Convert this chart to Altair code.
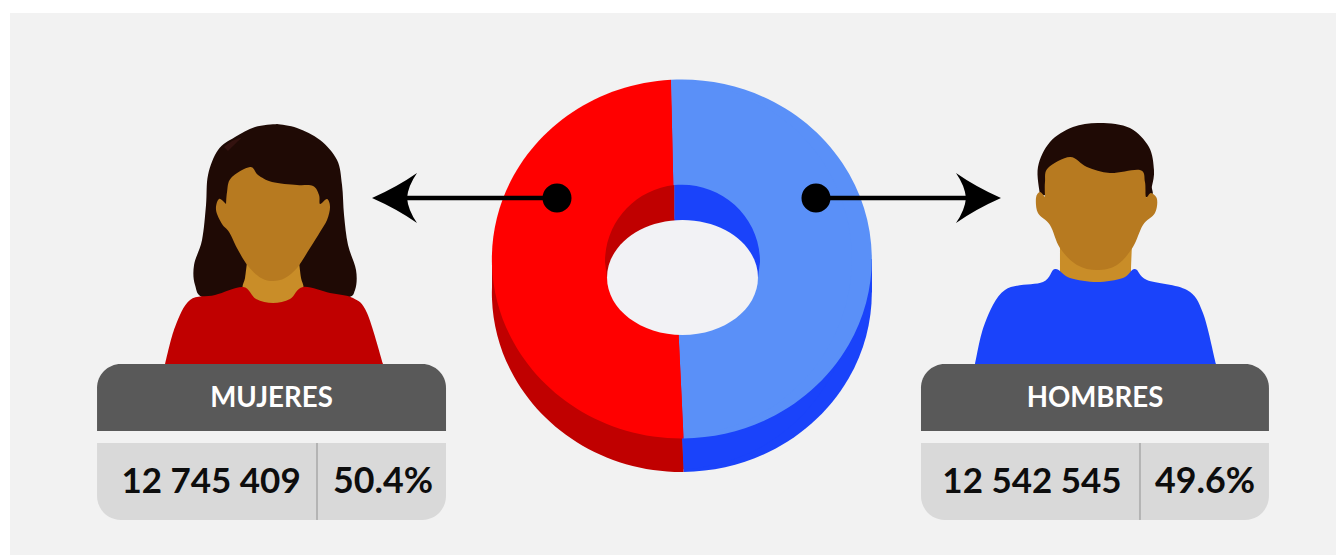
import math
import altair as alt
import pandas as pd

# ---- values
sexos = ["HOMBRES", "MUJERES"]
shares = [49.6, 50.4]
poblacion = ["12 542 545", "12 745 409"]
porcentajes = ["49.6%", "50.4%"]

top_colors = ["#5a90f8", "#ff0000"]
side_colors = ["#1a43fa", "#c00000"]

# The page is 16px wider than the window once the panel runs to its right edge,
# and the photograph shrinks it by this factor; page coordinates below allow for it.
K = 1344 / 1352
W, H = 1336, 552
DY = 1.7
SX = alt.Scale(domain=[8 * K, 8 * K + W * K], range=[0, W], nice=False, zero=False)
SY = alt.Scale(domain=[8 * K + DY, 8 * K + DY + H * K], range=[0, H], nice=False, zero=False)
X = lambda f="x": alt.X(f"{f}:Q", scale=SX, axis=None)
Y = lambda f="y": alt.Y(f"{f}:Q", scale=SY, axis=None)


def curve(pts, close=True):
    """Smooth outline through hand-read points (Catmull-Rom to Bezier)."""
    d = f"M{pts[0][0]},{pts[0][1]}"
    n = len(pts)
    for i in range(n - 1):
        p0 = pts[max(i - 1, 0)]
        p1 = pts[i]
        p2 = pts[i + 1]
        p3 = pts[min(i + 2, n - 1)]
        c1 = (p1[0] + (p2[0] - p0[0]) / 6, p1[1] + (p2[1] - p0[1]) / 6)
        c2 = (p2[0] - (p3[0] - p1[0]) / 6, p2[1] - (p3[1] - p1[1]) / 6)
        d += f"C{c1[0]:.1f},{c1[1]:.1f} {c2[0]:.1f},{c2[1]:.1f} {p2[0]},{p2[1]}"
    return d + ("Z" if close else "")


def shape(path, color):
    # this size makes one path unit one final pixel; the anchor sits on the page origin
    return (
        alt.Chart(pd.DataFrame({"x": [0], "y": [0]}))
        .mark_point(shape=path, size=4 / K ** 2, filled=True, fill=color, stroke=None, opacity=1, clip=False)
        .encode(x=X(), y=Y())
    )


def box(x0, x1, y0, y1, color, **kw):
    return (
        alt.Chart(pd.DataFrame({"x": [x0], "x2": [x1], "y": [y0], "y2": [y1]}))
        .mark_rect(color=color, **kw)
        .encode(x=X(), x2="x2:Q", y=Y(), y2="y2:Q")
    )


def label(x, y, text, size, color):
    return (
        alt.Chart(pd.DataFrame({"x": [x], "y": [y], "t": [text]}))
        .mark_text(font="Lato", fontWeight="bold", fontSize=size, color=color, align="center", baseline="middle")
        .encode(x=X(), y=Y(), text="t:N")
    )


layers = [box(10, 1344, 13, 555, "#f2f2f2")]

# ---- donut
df = pd.DataFrame({"sexo": sexos, "share": shares})
df["a"] = df["share"].cumsum().shift(fill_value=0)
df["b"] = df["share"].cumsum()
start = math.radians(-1.3)
THETA = alt.Scale(domain=[0, 100], range=[start, start + 2 * math.pi])
COLOR = alt.Scale(
    domain=[s + "_top" for s in sexos] + [s + "_side" for s in sexos],
    range=top_colors + side_colors,
)


def ring(cy, tone):
    d = df.assign(x=675, y=cy, key=df["sexo"] + tone)
    return (
        alt.Chart(d)
        .mark_arc(radius=177 / K, innerRadius=40)
        .encode(
            x=X(),
            y=Y(),
            theta=alt.Theta("a:Q", scale=THETA),
            theta2="b:Q",
            color=alt.Color("key:N", scale=COLOR, legend=None),
        )
    )


def rims(cy, c_right, c_left):
    t, b = cy - 179.2, cy + 179.5
    return [
        shape(f"M671,{t}A190,179.5 0 1 1 683.5,{b}Z", c_right),
        shape(f"M683.5,{b}A190,179.5 0 0 1 671,{t}Z", c_left),
    ]


layers += rims(292.5, side_colors[0], side_colors[1])
layers += [box(492, 680, 259, 292.5, side_colors[1]), box(680, 872, 259, 292.5, side_colors[0])]
layers += [ring(292.5, "_side")]
layers += rims(259, top_colors[0], top_colors[1])
layers += [ring(259, "_top")]

# inner wall and hole
layers += [
    shape("M674.5,185A78,77 0 0 0 605,262L607,278L674.5,278Z", side_colors[1]),
    shape("M674.5,185A78,77 0 0 1 760,262L758,278L674.5,278Z", side_colors[0]),
    shape("M607,277.5A75.5,57.5 0 1 1 758,277.5A75.5,57.5 0 1 1 607,277.5Z", "#f2f2f5"),
]

# ---- arrows
layers += [
    alt.Chart(pd.DataFrame({"x": [404, 816], "x2": [557, 968], "y": [198, 198]}))
    .mark_rule(color="#000000", strokeWidth=4.4)
    .encode(x=X(), x2="x2:Q", y=Y()),
    shape("M372,198Q397,187 417,173Q408,186 407,198Q408,210 417,223Q397,209 372,198Z", "#000000"),
    shape("M1001,198Q976,187 956,173Q965,186 966,198Q965,210 956,223Q976,209 1001,198Z", "#000000"),
    alt.Chart(pd.DataFrame({"x": [557, 816], "y": [198, 198]}))
    .mark_point(shape="circle", size=841 / K ** 2, filled=True, color="#000000", opacity=1)
    .encode(x=X(), y=Y()),
]

# ---- woman
HAIR = "#1f0a05"
FACE = "#b77a20"
NECK = "#c98d28"
layers += [
    shape(curve([(277, 124), (297, 128), (320, 140), (337, 160), (342, 185), (344, 215), (348, 245), (356, 270),
                 (355, 290), (345, 298), (300, 300), (250, 300), (205, 298), (195, 285), (194, 265), (202, 240),
                 (206, 205), (208, 175), (218, 150), (235, 137), (255, 127), (277, 124)]), HAIR),
    shape(curve([(224, 147), (232, 141), (241, 138), (236, 143), (228, 151)]), "#33120f"),
    shape(curve([(247, 262), (245, 278), (243, 290), (256, 306), (273, 310), (290, 306), (303, 290), (301, 278),
                 (299, 262)]), NECK),
    shape(curve([(165, 364), (175, 327), (190, 300), (215, 295), (243, 287), (256, 299), (273, 303), (290, 299),
                 (303, 287), (330, 293), (353, 298), (367, 313), (383, 364)]), "#c00000"),
    shape(curve([(226, 204), (227, 192), (231, 178), (250, 167), (258, 175), (272, 182), (297, 185), (313, 186),
                 (319, 195), (320, 204), (327, 199), (330, 207), (327, 220), (320, 232), (310, 248), (297, 268),
                 (285, 278), (273, 281), (261, 278), (248, 266), (238, 250), (229, 232), (222, 224), (216, 210),
                 (219, 199), (226, 204)]), FACE),
]

# ---- man
layers += [
    shape(curve([(1040, 195), (1038, 167), (1050, 142), (1073, 127), (1100, 123), (1130, 128), (1149, 147),
                 (1154, 170), (1152, 186), (1148, 197), (1100, 199), (1040, 195)]), HAIR),
    shape(curve([(1060, 245), (1060, 270), (1060, 292), (1095, 296), (1131, 292), (1131, 270), (1132, 245)]), NECK),
    shape(curve([(975, 364), (985, 323), (1005, 290), (1043, 282), (1055, 269), (1070, 278), (1097, 282),
                 (1123, 278), (1135, 269), (1147, 280), (1187, 290), (1203, 313), (1216, 364)]), "#1a43fa"),
    shape(curve([(1045, 197), (1045, 182), (1048, 168), (1070, 157), (1087, 167), (1110, 173), (1140, 170),
                 (1145, 182), (1146, 197), (1151, 193), (1157, 199), (1155, 213), (1143, 225), (1133, 247),
                 (1117, 265), (1097, 270), (1077, 265), (1060, 248), (1050, 225), (1038, 213), (1036, 198),
                 (1040, 192), (1045, 197)]), FACE),
]

# ---- cards
R = 24
for x0, x1, divider, name, num, pct, cnum, cpct in [
    (97, 446, 317, sexos[1], poblacion[1], porcentajes[1], 211, 383),
    (921, 1269, 1140, sexos[0], poblacion[0], porcentajes[0], 1032, 1205),
]:
    layers += [
        box(x0, x1, 364, 431, "#595959", cornerRadiusTopLeft=R, cornerRadiusTopRight=R),
        box(x0, x1, 443, 520, "#d9d9d9", cornerRadiusBottomLeft=R, cornerRadiusBottomRight=R),
        box(divider - 1, divider + 1, 443, 520, "#b4b4b4"),
        label((x0 + x1) / 2, 399.5, name, 27.8, "#ffffff"),
        label(cnum, 482, num, 35.2, "#0d0d0d"),
        label(cpct, 482, pct, 36, "#0d0d0d"),
    ]

chart = (
    alt.layer(*layers)
    .properties(width=W, height=H, padding=0, background="#ffffff", autosize=alt.AutoSizeParams(type="none"))
    .configure_view(stroke=None)
)
chart.save("out.html", embed_options={"renderer": "svg", "actions": False})
